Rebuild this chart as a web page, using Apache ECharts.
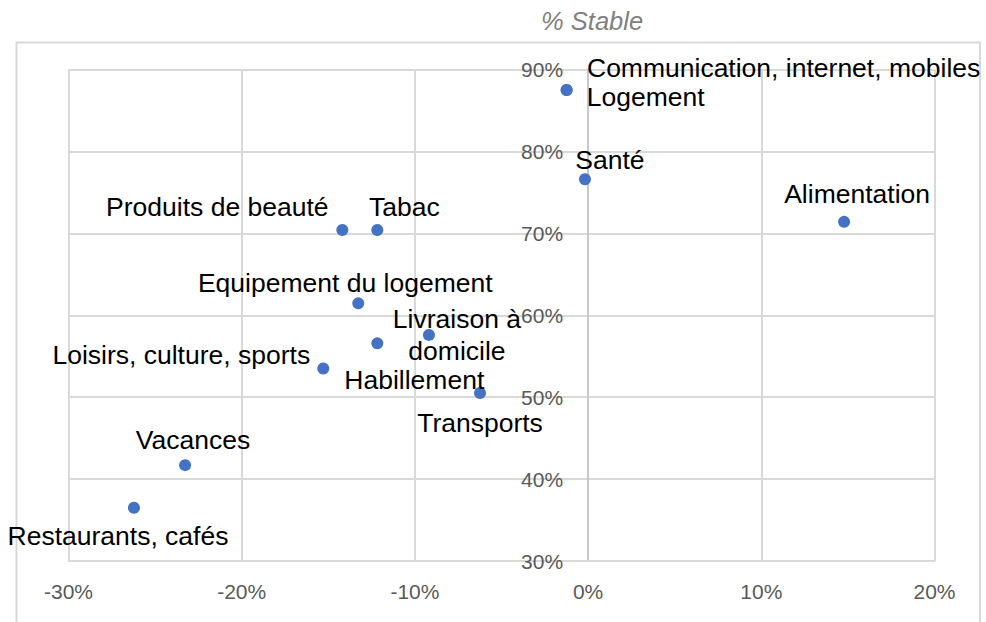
<!DOCTYPE html>
<html>
<head>
<meta charset="utf-8">
<script src="https://cdn.jsdelivr.net/npm/echarts@6/dist/echarts.min.js"></script>
<style>
  html, body { margin: 0; padding: 0; background: #ffffff; }
  #chart { width: 986px; height: 622px; }
</style>
</head>
<body>
<div id="chart"></div>
<script>
// Spending categories: change in spending (x, %) vs share of households stable (y, %)
const categories = [
  'Communication, internet, mobiles',
  'Logement',
  'Santé',
  'Alimentation',
  'Produits de beauté',
  'Tabac',
  'Equipement du logement',
  'Livraison à\ndomicile',
  'Habillement',
  'Loisirs, culture, sports',
  'Transports',
  'Vacances',
  'Restaurants, cafés'
];
const changeValues = [-1.24, -1.24, -0.18, 14.78, -14.19, -12.17, -13.27, -9.19, -12.17, -15.29, -6.24, -23.27, -26.22];
const stableValues = [87.5, 87.5, 76.6, 71.4, 70.4, 70.4, 61.45, 57.6, 56.57, 53.5, 50.5, 41.7, 36.5];

const xTicks = { min: -30, max: 20, step: 10 };
const yTicks = { min: 30, max: 90, step: 10 };

// Where each category's label sits relative to its marker (px)
const labelOffsets = {
  'Communication, internet, mobiles': [217, -22],
  'Logement': [79, 7],
  'Santé': [25, -19],
  'Alimentation': [13, -28],
  'Produits de beauté': [-125, -23],
  'Tabac': [27, -23],
  'Equipement du logement': [-13, -20],
  'Livraison à\ndomicile': [28, 0],
  'Habillement': [37, 37],
  'Loisirs, culture, sports': [-142, -13],
  'Transports': [0, 30],
  'Vacances': [8, -25],
  'Restaurants, cafés': [-16, 28]
};

const points = categories.map((name, i) => ({
  name: name,
  value: [changeValues[i], stableValues[i]],
  label: { offset: labelOffsets[name] }
}));

const gridColor = '#d9d9d9';
const tickColor = '#595959';

// Plot box (px)
const plot = { left: 68.5, right: 51.5, top: 69.5, bottom: 61 };
const plotWidth = 986 - plot.left - plot.right;
// The vertical axis crosses the horizontal one at x = 0
const yAxisShift = -((0 - xTicks.min) / (xTicks.max - xTicks.min)) * plotWidth;

const chart = echarts.init(document.getElementById('chart'), null, { renderer: 'svg' });
chart.setOption({
  animation: false,
  backgroundColor: '#ffffff',
  textStyle: { fontFamily: 'Liberation Sans, Arial, sans-serif' },
  grid: { left: plot.left, right: plot.right, top: plot.top, bottom: plot.bottom, containLabel: false },
  graphic: [{
    type: 'rect',
    silent: true,
    shape: { x: 16.5, y: 42.5, width: 963.5, height: 620 },
    style: { fill: 'none', stroke: gridColor, lineWidth: 2 },
    z: -1
  }],
  xAxis: {
    type: 'value',
    min: xTicks.min,
    max: xTicks.max,
    interval: xTicks.step,
    axisLine: { onZero: false, lineStyle: { color: gridColor, width: 2 } },
    axisTick: { show: false },
    axisLabel: { formatter: '{value}%', color: tickColor, fontSize: 21, margin: 20 },
    splitLine: { show: true, lineStyle: { color: gridColor, width: 2 } }
  },
  yAxis: {
    type: 'value',
    min: yTicks.min,
    max: yTicks.max,
    interval: yTicks.step,
    offset: yAxisShift,
    name: '% Stable',
    nameLocation: 'end',
    nameGap: 36,
    nameTextStyle: { color: '#808080', fontSize: 25.5, fontStyle: 'italic', padding: [0, 0, 0, 8] },
    axisLine: { onZero: false, lineStyle: { color: '#c8c8c8', width: 2 } },
    axisTick: { show: false },
    axisLabel: { formatter: '{value}%', color: tickColor, fontSize: 21, margin: 25 },
    splitLine: { show: true, lineStyle: { color: gridColor, width: 2 } }
  },
  series: [{
    type: 'scatter',
    symbol: 'circle',
    symbolSize: 12,
    itemStyle: { color: '#4472c4', opacity: 1 },
    data: points,
    label: {
      show: true,
      position: 'inside',
      formatter: '{b}',
      align: 'center',
      verticalAlign: 'middle',
      color: '#000000',
      fontSize: 26.5,
      lineHeight: 32
    },
    z: 3
  }]
});
</script>
</body>
</html>
